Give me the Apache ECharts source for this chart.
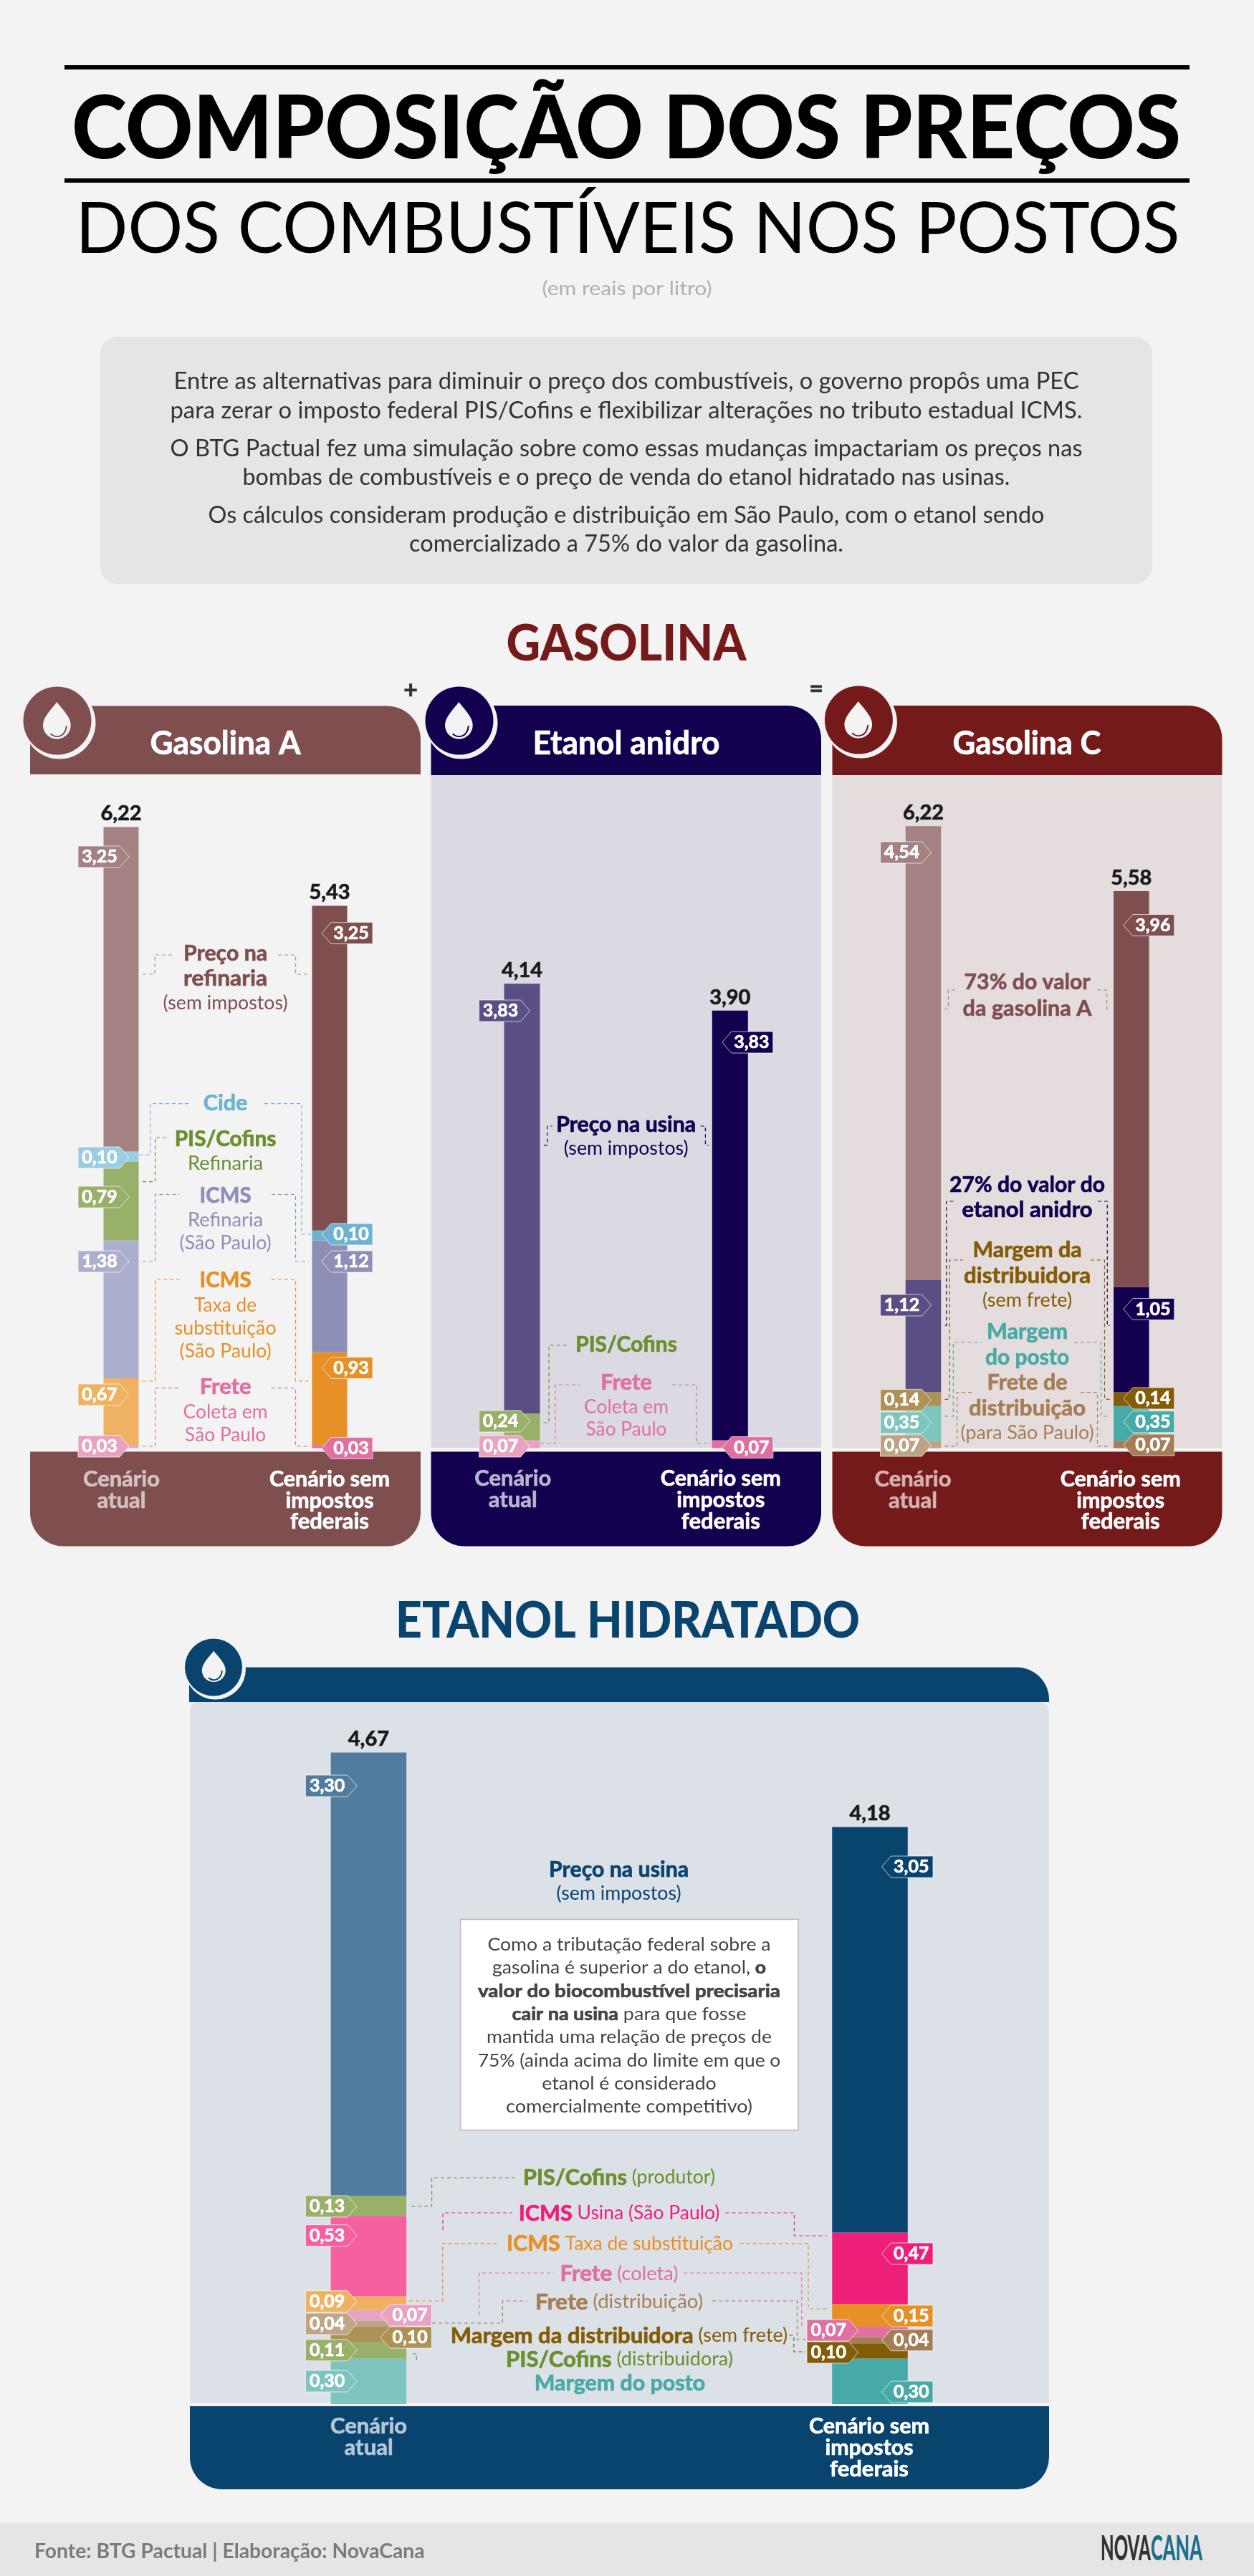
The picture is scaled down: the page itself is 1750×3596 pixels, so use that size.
<!DOCTYPE html>
<html lang="pt-BR"><head><meta charset="utf-8"><title>Composição dos preços</title>
<style>html,body{margin:0;padding:0;background:#f3f3f3}#c{width:1750px;height:3596px}</style>
<script src="https://cdn.jsdelivr.net/npm/echarts@6/dist/echarts.min.js"></script></head>
<body><div id="c"></div>
<script>
// ---------- DATA (R$/litro), stacks listed bottom to top ----------
const gasANames = ['Frete','ICMS Taxa de substituição','ICMS Refinaria','PIS/Cofins','Cide','Preço na refinaria'];
const gasAAtual = [0.03,0.67,1.38,0.79,0.10,3.25];
const gasASem   = [0.03,0.93,1.12,null,0.10,3.25];
const gasATotals = [6.22,5.43];

const anidroNames = ['Frete','PIS/Cofins','Preço na usina'];
const anidroAtual = [0.07,0.24,3.83];
const anidroSem   = [0.07,null,3.83];
const anidroTotals = [4.14,3.90];

const gasCNames = ['Frete de distribuição','Margem do posto','Margem da distribuidora','27% do valor do etanol anidro','73% do valor da gasolina A'];
const gasCAtual = [0.07,0.35,0.14,1.12,4.54];
const gasCSem   = [0.07,0.35,0.14,1.05,3.96];
const gasCTotals = [6.22,5.58];

const hidNames = ['Margem do posto','PIS/Cofins (distribuidora)','Margem da distribuidora','Frete (distribuição)','Frete (coleta)','ICMS Taxa de substituição','ICMS Usina','PIS/Cofins (produtor)','Preço na usina'];
const hidAtual = [0.30,0.11,0.10,0.04,0.07,0.09,0.53,0.13,3.30];
const hidSem   = [0.30,null,0.10,0.04,0.07,0.15,0.47,null,3.05];
const hidTotals = [4.67,4.18];

// ---------- STYLES & LAYOUT ----------
const PAGE='#f3f3f3';
const gasAColors=[['#e8a3c3','#e0709f'],['#eeb262','#e69026'],['#abafcd','#8d8fb7'],['#98b069','#98b069'],['#9bcde2','#6db3d1'],['#a48182','#7f4f50']];
const anidroColors=[['#e8a3c3','#e0709f'],['#98b069','#98b069'],['#5a4e84','#13004f']];
const gasCColors=[['#bca385','#a57e57'],['#80c4c0','#48aaa6'],['#ae9155','#835c07'],['#5a4e84','#13004f'],['#a48182','#7f4f50']];
const hidColors=[['#80c4c0','#48aaa6'],['#98b069','#98b069'],['#ae9155','#835c07'],['#c0a587','#a57e57'],['#e8a3c3','#e0709f'],['#eeb262','#e69026'],['#f6609f','#ee1f79'],['#98b069','#98b069'],['#527c9d','#09446f']];
// tag centre y, [atual rows, sem rows], aligned with the stacks above; side L/R
const gasATagY=[[2019,1947,1761,1671,1616,1196],[2021.5,1909.5,1761,null,1723,1302.6]];
const anidroTagY=[[2019,1984,1411],[2020.6,null,1455]];
const gasCTagY=[[2018,1986,1954.4,1822,1190],[2017,1984.8,1952,1827.5,1291.5]];
const hidTagY=[[3324,3280.7,3263,3244,3232,3212.7,3120.7,3080,2493],[3339,null,3284,3266.7,3253,3233,3146,null,2606]];
const hidFlip=[[4,2],[4,2]]; // segments whose tag sits on the other side of the bar
// the reference's hydrated-ethanol panel silently cuts about 0.38 from the axis
const hidAxisCut={start:2,end:2.38,gap:0};

const panels=[
 {names:gasANames,vals:[gasAAtual,gasASem],totals:gasATotals,colors:gasAColors,tagY:gasATagY,x0:169,x1:460,barW:49,top:1082,bottom:2021.5,max:6.74,near:11,far:60,flip:[[],[]]},
 {names:anidroNames,vals:[anidroAtual,anidroSem],totals:anidroTotals,colors:anidroColors,tagY:anidroTagY,x0:728.5,x1:1018.8,barW:50,top:1082,bottom:2021.5,max:6.0,near:11,far:60,flip:[[],[]]},
 {names:gasCNames,vals:[gasCAtual,gasCSem],totals:gasCTotals,colors:gasCColors,tagY:gasCTagY,x0:1288.5,x1:1578.8,barW:49.5,top:1082,bottom:2021.5,max:6.73,near:11,far:60,flip:[[],[]]},
 {names:hidNames,vals:[hidAtual,hidSem],totals:hidTotals,colors:hidColors,tagY:hidTagY,x0:514.4,x1:1214,barW:105.5,top:2376.6,bottom:3356,max:5,near:-16.5,far:88,flip:hidFlip,cut:hidAxisCut}
];
const fmt=v=>v.toFixed(2).replace('.',',');

// ---------- TEXT HELPERS ----------
const mctx=document.createElement('canvas').getContext('2d');
const mw=(t,f)=>{mctx.font=f;return mctx.measureText(t).width};
function T(txt,x,y,size,weight,color,w){
  const font=`${weight} ${size}px Lato`;
  const style={text:txt,x:0,y:0,font,fill:color,align:'center',verticalAlign:'middle',textAlign:'center',textVerticalAlign:'middle'};
  if(weight==='bold'){style.stroke=color;style.lineWidth=0.7;}
  return {type:'text',x,y,scaleX:w?w/mw(txt,font):1,silent:true,style};
}
function R(parts,x,y,sb,sr,color,w){
  let s='',tot=0;
  parts.forEach(([t,b])=>{s+=`{${b?'b':'r'}|${t}}`;tot+=mw(t,`${b?'bold':'normal'} ${b?sb:sr}px Lato`)});
  return {type:'text',x,y,scaleX:w?w/tot:1,silent:true,
    style:{text:s,x:0,y:0,align:'center',verticalAlign:'middle',textAlign:'center',textVerticalAlign:'middle',
      rich:{b:{fontFamily:'Lato',fontWeight:'bold',fontSize:sb,fill:color,stroke:color,lineWidth:0.7},r:{fontFamily:'Lato',fontWeight:'normal',fontSize:sr,fill:color}}}};
}
const rect=(x,y,w,h,fill,r)=>({type:'rect',silent:true,shape:{x,y,width:w,height:h,r:r||0},style:{fill}});
const circ=(cx,cy,r,fill)=>({type:'circle',silent:true,shape:{cx,cy,r},style:{fill}});
const L=(c,...p)=>({type:'polyline',silent:true,shape:{points:p},style:{stroke:c,lineWidth:1.2,lineDash:[5,4],fill:null}});
function dropPoints(dx,dy,dw,dh){
  const segs=[[[.5,0],[.62,.136],[1,.388],[1,.626]],[[1,.626],[1,.833],[.775,1],[.5,1]],[[.5,1],[.225,1],[0,.833],[0,.626]],[[0,.626],[0,.388],[.38,.136],[.5,0]]];
  const pts=[];
  segs.forEach(s=>{for(let i=0;i<14;i++){const t=i/14,u=1-t;
    const c=k=>u*u*u*s[0][k]+3*u*u*t*s[1][k]+3*u*t*t*s[2][k]+t*t*t*s[3][k];
    pts.push([dx+dw*c(0),dy+dh*c(1)]);}});
  return pts;
}
function drop(cx,cy,r,off,color,dx,dy,dw,dh){
  return [circ(cx+off,cy+off,r+off,PAGE),circ(cx,cy,r,color),
   {type:'polygon',silent:true,shape:{points:dropPoints(dx,dy,dw,dh)},style:{fill:PAGE}},
   {type:'bezierCurve',silent:true,shape:{x1:dx+dw*.28,y1:dy+dh*.858,cpx1:dx+dw*.42,cpy1:dy+dh*.98,cpx2:dx+dw*.8,cpy2:dy+dh*.98,x2:dx+dw*.85,y2:dy+dh*.64},style:{stroke:color,lineWidth:2,fill:null}}];
}
function footLabels(x0,x1,ys,c){return [T('Cenário',x0,ys[0],31,'bold',c,107),T('atual',x0,ys[1],31,'bold',c,68),
  T('Cenário sem',x1,ys[0],31,'bold','#fff',168),T('impostos',x1,ys[1],31,'bold','#fff',123),T('federais',x1,ys[2],31,'bold','#fff',110)];}

// ---------- STATIC GRAPHICS ----------
const els=[];
const add=(...a)=>els.push(...a);
// heading
add(rect(90,91,1570,6,'#000'),rect(90,249,1570,6,'#000'));
add(T('COMPOSIÇÃO DOS PREÇOS',874,182,122,900,'#000',1548));
add(T('DOS COMBUSTÍVEIS NOS POSTOS',876,321,98,'normal','#000',1541));
add(T('(em reais por litro)',875,403,27,'normal','#b0b0b0',237));
add(rect(139.5,470,1468.5,345,'#e5e5e5',25));
[['Entre as alternativas para diminuir o preço dos combustíveis, o governo propôs uma PEC',532,1263],
 ['para zerar o imposto federal PIS/Cofins e flexibilizar alterações no tributo estadual ICMS.',573,1273],
 ['O BTG Pactual fez uma simulação sobre como essas mudanças impactariam os preços nas',626,1273],
 ['bombas de combustíveis e o preço de venda do etanol hidratado nas usinas.',666,1071],
 ['Os cálculos consideram produção e distribuição em São Paulo, com o etanol sendo',719,1167],
 ['comercializado a 75% do valor da gasolina.',759,606]].forEach(([t,y,w])=>add(T(t,874,y,33,'normal','#333',w)));
add(T('GASOLINA',874,899,70,900,'#751a1a',335));
add(T('+',573,964,34,'bold','#333'),T('=',1139,962,34,'bold','#333'));
// panel chrome
add(rect(42,985.5,545,95.5,'#7f4f50',[0,47,0,0]),rect(42,2026.5,545,132,'#7f4f50',[0,0,47,47]));
add(rect(601.5,1082,544.5,939,'#dbdae3'),rect(601.5,985,544.5,97,'#13004f',[0,47,0,0]),rect(601.5,2026.5,544.5,132,'#13004f',[0,0,47,47]));
add(rect(1161.5,1082,544,939.5,'#e5dddd'),rect(1161.5,985,544,97,'#751a1a',[0,47,0,0]),rect(1161.5,2026.5,544,132,'#751a1a',[0,0,47,47]));
add(...drop(80,1006,47.5,3,'#7f4f50',60,980,38.7,51.6),...drop(641,1006,47.5,3,'#13004f',621,980,38.7,51.6),...drop(1198.4,1005,47.5,3,'#751a1a',1178.4,979,38.7,51.6));
add(T('Gasolina A',314.6,1038,45,'bold','#fff',210),T('Etanol anidro',874,1038,45,'bold','#fff',261),T('Gasolina C',1433,1038,45,'bold','#fff',207));
add(...footLabels(169.5,460,[2065,2095,2124],'#d3c0c0'),...footLabels(715.8,1005.8,[2064,2094,2124],'#b9b3d2'),...footLabels(1274,1563.7,[2065,2095,2124],'#d4b0b0'));
// ethanol panel
add(T('ETANOL HIDRATADO',876,2263,70,900,'#09446f',648));
add(rect(265,2376,1199,978,'#dce0e7',[12,12,0,0]),rect(264,2327.5,1200,48.5,'#09446f',[0,45,0,0]),rect(265,3359,1199,116,'#09446f',[0,0,45,45]));
add(...drop(298,2327.5,40,2.5,'#09446f',281.8,2304.6,33,43.4));
add(...footLabels(514.6,1213,[3387,3417,3447],'#b5c6d6'));
add(rect(642.6,2679.6,471.4,293.9,'#fff'));
els[els.length-1].style.stroke='#bbb';els[els.length-1].style.lineWidth=1.5;
// annotations – gasolina A
const cA='#7f4f50';
add(T('Preço na',314.6,1331,31,'bold',cA,117),T('refinaria',314.6,1366,31,'bold',cA,117),T('(sem impostos)',314.6,1401,26,'normal',cA,174));
add(T('Cide',314.6,1540,31,'bold','#6db3d1',61.6),T('PIS/Cofins',314.6,1590,31,'bold','#6a8f2f',141.6),T('Refinaria',314.6,1624,27,'normal','#6a8f2f',105));
add(T('ICMS',314.6,1669,31,'bold','#8d8fb7',72),T('Refinaria',314.6,1703,27,'normal','#8d8fb7',105),T('(São Paulo)',314.6,1735,27,'normal','#8d8fb7',128));
add(T('ICMS',314.6,1787,31,'bold','#e69026',72),T('Taxa de',314.6,1822,27,'normal','#e69026',87),T('substituição',314.6,1854,27,'normal','#e69026',142),T('(São Paulo)',314.6,1886,27,'normal','#e69026',128));
add(T('Frete',314.6,1936,31,'bold','#e0709f',71.6),T('Coleta em',314.6,1971,27,'normal','#e0709f',118),T('São Paulo',314.6,2003,27,'normal','#e0709f',113));
add(L('#b38f90',[199,1360],[216,1360],[216,1333],[241,1333]),L('#b38f90',[388,1333],[412.5,1333],[412.5,1360],[430.5,1360]));
add(L('#6db3d1',[194.4,1612],[209.7,1612],[209.7,1540.7],[264,1540.7]),L('#6db3d1',[369,1540.7],[421,1540.7],[421,1723],[434,1723]));
add(L('#6a8f2f',[199,1649.6],[216.6,1649.6],[216.6,1588],[231.5,1588]));
add(L('#8d8fb7',[199,1761],[216.6,1761],[216.6,1667.5],[250.7,1667.5]),L('#8d8fb7',[379,1667.5],[412.5,1667.5],[412.5,1761],[430.5,1761]));
add(L('#e69026',[199,1928],[216.6,1928],[216.6,1786],[250.7,1786]),L('#e69026',[379,1786],[412.5,1786],[412.5,1928],[430.5,1928]));
add(L('#e0709f',[199,2019],[216.6,2019],[216.6,1937.6],[250.7,1937.6]),L('#e0709f',[379,1937.6],[412.5,1937.6],[412.5,2019],[432,2019]));
// annotations – anidro
const cN='#13004f';
add(T('Preço na usina',873.7,1569.6,31,'bold',cN,195),T('(sem impostos)',873.7,1604,26,'normal',cN,174));
add(T('PIS/Cofins',874,1877,31,'bold','#6a8f2f',141.6),T('Frete',874,1930,31,'bold','#e0709f',71.6),T('Coleta em',874,1964,27,'normal','#e0709f',118),T('São Paulo',874,1995.5,27,'normal','#e0709f',113));
add(L(cN,[759,1598.6],[764,1598.6],[764,1572],[770.5,1572]),L(cN,[977.7,1572],[984.4,1572],[984.4,1598.6],[988.8,1598.6]));
add(L('#6a8f2f',[758.7,1986],[766,1986],[766,1878],[792.7,1878]));
add(L('#e0709f',[754,2015],[775,2015],[775,1933],[809.4,1933]),L('#e0709f',[938,1933],[972,1933],[972,2015],[992.5,2015]));
// annotations – gasolina C
add(T('73% do valor',1433.6,1371,31,'bold',cA,176),T('da gasolina A',1433.6,1407.6,31,'bold',cA,180));
add(L('#a48182',[1318.4,1408.5],[1323.4,1408.5],[1323.4,1382],[1336.4,1382]),L('#a48182',[1531.5,1382],[1544.6,1382],[1544.6,1408.5],[1549.5,1408.5]));
add(T('27% do valor do',1433.6,1653.6,31,'bold',cN,217),T('etanol anidro',1433.6,1689,31,'bold',cN,182));
add(T('Margem da',1433.6,1745,31,'bold','#835c07',152),T('distribuidora',1433.6,1781,31,'bold','#835c07',177),T('(sem frete)',1433.6,1815.3,26,'normal','#835c07',125));
add(T('Margem',1433.6,1859,31,'bold','#48aaa6',113),T('do posto',1433.6,1895,31,'bold','#48aaa6',117));
add(T('Frete de',1433.6,1930.4,31,'bold','#a57e57',112),T('distribuição',1433.6,1966,31,'bold','#a57e57',163),T('(para São Paulo)',1433.6,2000.7,26,'normal','#a57e57',186));
add(L(cN,[1319,1850.5],[1320.7,1850.5],[1320.7,1677],[1330.6,1677]),L(cN,[1532,1677],[1545.3,1677],[1545.3,1850.5],[1549,1850.5]));
add(L('#835c07',[1318.4,1953.3],[1325.3,1953.3],[1325.3,1759],[1344,1759]),L('#835c07',[1522,1759],[1541.5,1759],[1541.5,1953.3],[1549,1953.3]));
add(L('#48aaa6',[1318.4,1977],[1330.3,1977],[1330.3,1874],[1370,1874]),L('#48aaa6',[1499,1874],[1536.5,1874],[1536.5,1977],[1549,1977]));
add(L('#a57e57',[1318.4,2018.8],[1335.6,2018.8],[1335.6,1943.7],[1359.7,1943.7]),L('#a57e57',[1507.8,1943.7],[1531.5,1943.7],[1531.5,2018.8],[1549,2018.8]));
// annotations – etanol hidratado
const cH='#09446f';
add(T('Preço na usina',863.6,2609.7,31,'bold',cH,195),T('(sem impostos)',863.6,2644,26,'normal',cH,174));
[[[['Como a tributação federal sobre a',0]],2715.3,395],
 [[['gasolina é superior a do etanol, ',0],['o',1]],2747.4,382],
 [[['valor do biocombustível precisaria',1]],2779.6,422],
 [[['cair na usina',1],[' para que fosse',0]],2812,327],
 [[['mantida uma relação de preços de',0]],2844.4,398],
 [[['75% (ainda acima do limite em que o',0]],2877,422.7],
 [[['etanol é considerado',0]],2909,243.5],
 [[['comercialmente competitivo)',0]],2940.8,344]].forEach(([p,y,w])=>add(R(p,878,y,25,25,'#444',w)));
add(R([['PIS/Cofins',1],[' (produtor)',0]],864,3040,30,26,'#6a8f2f',268));
add(R([['ICMS',1],[' Usina (São Paulo)',0]],864,3090,30,26,'#ee1f79',280.5));
add(R([['ICMS',1],[' Taxa de substituição',0]],865,3132.7,30,26,'#e69026',316));
add(R([['Frete',1],[' (coleta)',0]],864,3174.7,30,26,'#e0709f',165));
add(R([['Frete',1],[' (distribuição)',0]],864,3214,30,26,'#a57e57',234));
add(R([['Margem da distribuidora',1],[' (sem frete)',0]],864,3261,30,26,'#835c07',470.5));
add(R([['PIS/Cofins',1],[' (distribuidora)',0]],864.5,3294,30,26,'#6a8f2f',317));
add(R([['Margem do posto',1]],865,3327,30,26,'#48aaa6',238.4));
add(L('#6a8f2f',[574,3080],[602.6,3080],[602.6,3040],[718.6,3040]));
add(L('#ee1f79',[618,3113],[618,3089],[714.6,3089]),L('#ee1f79',[1012.5,3089],[1108.4,3089],[1108.4,3121],[1153.7,3121]));
add(L('#e69026',[571,3212],[617.6,3212],[617.6,3131.7],[694.5,3131.7]),L('#e69026',[1032.6,3131.7],[1128,3131.7],[1128,3223],[1156.6,3223]));
add(L('#e0709f',[668.7,3231.7],[668.7,3173],[773,3173]),L('#e0709f',[954,3173],[1118.7,3173],[1118.7,3246],[1124.5,3246]));
add(L('#a57e57',[603,3243],[701.4,3243],[701.4,3212],[735.8,3212]),L('#a57e57',[994,3212],[1112.4,3212],[1112.4,3266],[1124.5,3266]));
add(L('#835c07',[1101.5,3260],[1107.8,3260],[1107.8,3283],[1124.5,3283]));
add(L('#6a8f2f',[576,3286],[581.4,3286],[581.4,3295.7]));
// footer
add(rect(0,3521.7,1750,75,'#e5e5e5'));
els.push({type:'text',x:48,y:3562,scaleX:544.6/mw('Fonte: BTG Pactual | Elaboração: NovaCana','bold 29px Lato'),silent:true,style:{text:'Fonte: BTG Pactual | Elaboração: NovaCana',x:0,y:0,font:'bold 29px Lato',fill:'#7b7b7b',align:'left',verticalAlign:'middle',textAlign:'left',textVerticalAlign:'middle'}});
add(T('NOVA',1571,3559,48,900,'#333',70),T('CANA',1642,3559,48,900,'#1f6f8b',72));
const graphicEls=els.map((e,i)=>({...e,z2:i}));

// ---------- CHART OPTION ----------
const grids=[],xAxes=[],yAxes=[],series=[];
panels.forEach((p,i)=>{
  grids.push({left:p.x0,width:p.x1-p.x0,top:p.top,height:p.bottom-p.top,containLabel:false});
  xAxes.push({type:'category',gridIndex:i,show:false,boundaryGap:false,data:['Cenário atual','Cenário sem impostos federais']});
  const y={type:'value',gridIndex:i,show:false,min:0,max:p.max,splitLine:{show:false}};
  if(p.cut){y.breaks=[p.cut];y.breakArea={show:false};}
  yAxes.push(y);
  p.names.forEach((n,s)=>{
    const top=s===p.names.length-1;
    series.push({type:'bar',name:n,xAxisIndex:i,yAxisIndex:i,stack:'p'+i,barWidth:p.barW,clip:false,z:3,silent:true,
      data:p.vals.map((v,c)=>({value:v[s],itemStyle:{color:p.colors[s][c]}})),
      label:top?{show:true,position:'top',distance:4,color:'#1a1a1a',fontFamily:'Lato',fontWeight:'bold',fontSize:29,
        textBorderColor:'#1a1a1a',textBorderWidth:0.7,formatter:o=>fmt(p.totals[o.dataIndex])}:{show:false}});
  });
  // value tags
  const rows=[];
  [0,1].forEach(c=>p.names.forEach((n,s)=>{
    const v=p.vals[c][s]; if(v==null) return;
    rows.push({c,v,y:p.tagY[c][s],color:p.colors[s][c],flip:p.flip[c].includes(s)});
  }));
  rows.sort((a,b)=>(a.flip?1:0)-(b.flip?1:0));
  series.push({type:'custom',xAxisIndex:i,yAxisIndex:i,clip:false,z:6,silent:true,encode:{x:0,y:1},
    data:rows.map((r,k)=>[r.c,r.v,k]),
    renderItem:(params,api)=>{
      const r=rows[api.value(2)],cx=api.coord([api.value(0),0])[0],hh=15,tip=13;
      const left=(r.c===0)!==r.flip;
      const pts=left?[[cx-p.far,r.y-hh],[cx+p.near-tip,r.y-hh],[cx+p.near,r.y],[cx+p.near-tip,r.y+hh],[cx-p.far,r.y+hh]]
                    :[[cx+p.far,r.y-hh],[cx-p.near+tip,r.y-hh],[cx-p.near,r.y],[cx-p.near+tip,r.y+hh],[cx+p.far,r.y+hh]];
      const tx=left?(cx-p.far+cx+p.near-tip)/2+1:(cx+p.far+cx-p.near+tip)/2-1;
      return {type:'group',children:[
        {type:'polygon',shape:{points:pts},style:{fill:r.color,stroke:'rgba(255,255,255,.7)',lineWidth:1}},
        {type:'text',style:{text:fmt(r.v),x:tx,y:r.y,fill:'#fff',stroke:'#fff',lineWidth:0.7,font:'bold 25px Lato',align:'center',verticalAlign:'middle',textAlign:'center',textVerticalAlign:'middle'}}]};
    }});
});
const chart=echarts.init(document.getElementById('c'),null,{renderer:'canvas',width:1750,height:3596});
chart.setOption({animation:false,backgroundColor:PAGE,legend:{show:false},tooltip:{show:false},
  grid:grids,xAxis:xAxes,yAxis:yAxes,series,graphic:{elements:graphicEls}});
</script></body></html>
